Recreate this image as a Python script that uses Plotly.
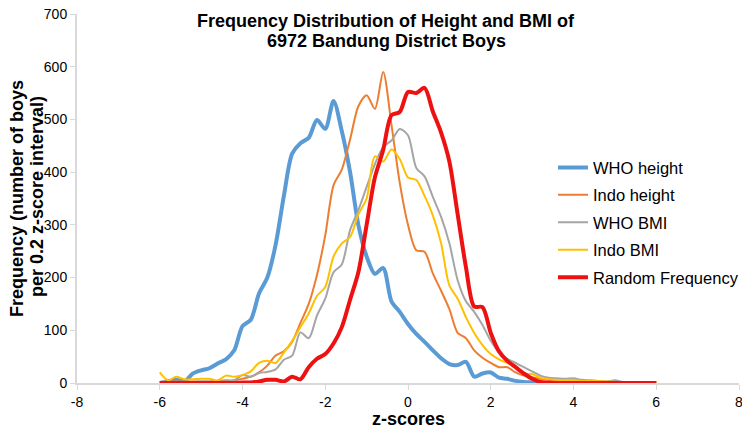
import plotly.graph_objects as go

z_scores = [round(-6 + 0.2 * i, 1) for i in range(61)]

who_height = [0, 3, 6, 3, 18, 24, 28, 37, 45, 62, 108, 120, 170, 200, 262, 355, 435, 455, 465, 499,
              482, 535, 478, 400, 300, 240, 207, 218, 155, 135, 112, 93, 78, 62, 47, 36, 34, 40, 12, 18,
              20, 10, 8, 4, 2, 1, 0, 0, 0, 0, 0, 0, 0, 0, 0, 0, 0, 0, 0, 0, 0]

indo_height = [2, 3, 3, 3, 3, 3, 3, 4, 5, 5, 8, 12, 20, 33, 52, 60, 78, 114, 150, 205,
               280, 375, 405, 462, 525, 546, 520, 590, 490, 380, 300, 252, 249, 208, 175, 140, 95, 85, 62, 48,
               38, 30, 30, 20, 14, 11, 8, 6, 5, 4, 3, 2, 2, 2, 1, 1, 1, 1, 1, 1, 1]

who_bmi = [2, 2, 2, 2, 2, 3, 3, 3, 3, 5, 15, 12, 19, 21, 26, 44, 52, 96, 85, 128,
           160, 210, 225, 290, 328, 372, 415, 448, 460, 482, 470, 408, 392, 353, 315, 265, 195, 155, 135, 110,
           80, 58, 46, 38, 30, 22, 14, 10, 9, 8, 9, 6, 5, 4, 3, 5, 2, 2, 2, 2, 2]

indo_bmi = [20, 5, 12, 7, 7, 8, 8, 5, 14, 12, 15, 22, 38, 42, 38, 58, 80, 106, 132, 165,
            182, 240, 265, 277, 320, 350, 430, 420, 443, 425, 390, 385, 355, 318, 265, 185, 160, 125, 95, 72,
            55, 45, 38, 32, 18, 17, 10, 7, 6, 5, 6, 4, 5, 4, 3, 2, 2, 2, 2, 2, 2]

random_freq = [0, 0, 0, 0, 0, 0, 0, 0, 0, 0, 1, 1, 3, 6, 6, 3, 12, 7, 30, 46,
               55, 75, 106, 158, 210, 300, 390, 442, 508, 514, 552, 550, 560, 515, 475, 420, 320, 220, 145, 144,
               95, 60, 42, 30, 18, 8, 2, 1, 0, 0, 0, 0, 0, 0, 0, 0, 0, 0, 0, 0, 0]

series_names = ["WHO height", "Indo height", "WHO BMI", "Indo BMI", "Random Frequency"]
series_values = [who_height, indo_height, who_bmi, indo_bmi, random_freq]
colors = ["#5B9BD5", "#ED7D31", "#A5A5A5", "#FFC000", "#EE1111"]
widths = [4, 2, 2, 2, 4]

x_tick_vals = [-8, -6, -4, -2, 0, 2, 4, 6, 8]
x_tick_text = ["-8", "-6", "-4", "-2", "0", "2", "4", "6", "8"]
y_tick_vals = [0, 100, 200, 300, 400, 500, 600, 700]

title_line1 = "<b>Frequency Distribution of Height and BMI of</b>"
title_line2 = "<b>6972 Bandung District Boys</b>"
x_title = "<b>z-scores</b>"
y_title_line1 = "<b>Frequency (number of boys</b>"
y_title_line2 = "<b>per 0.2 z-score interval)</b>"

fig = go.Figure()
for i, (name, vals, c, w) in enumerate(zip(series_names, series_values, colors, widths)):
    fig.add_trace(go.Scatter(
        x=z_scores, y=vals, name=name, mode="lines",
        line=dict(color=c, width=w, shape="spline", smoothing=0.8),
        legendgroup=str(i),
    ))

FONT = "Liberation Sans, Arial, sans-serif"
# page is offset by the 8px body margin; plot area spans page px x 77..739, y 14..383
OFF = 8
PL, PT, PW, PH = 77, 14, 662, 369


def px_x(px):
    return (px - PL) / PW


def px_y(py):
    return (PT + PH - py) / PH


fig.update_layout(
    width=750 - OFF, height=434 - OFF,
    margin=dict(l=PL - OFF, r=750 - (PL + PW), t=PT - OFF, b=434 - (PT + PH), autoexpand=False),
    paper_bgcolor="white", plot_bgcolor="white",
    font=dict(family=FONT, color="black", size=14),
    showlegend=True,
    legend=dict(
        x=0.719, y=0.631, xanchor="left", yanchor="top",
        font=dict(size=16.5), traceorder="grouped", tracegroupgap=3,
        bgcolor="rgba(0,0,0,0)",
    ),
    xaxis=dict(
        range=[-8, 8], tickvals=x_tick_vals, ticktext=x_tick_text, automargin=False,
        ticklabeloverflow="allow",
        showgrid=False, zeroline=False, showline=True, linecolor="#D9D9D9", linewidth=2,
        ticks="outside", ticklen=5, tickcolor="#D9D9D9",
    ),
    yaxis=dict(
        range=[0, 700], tickvals=y_tick_vals, automargin=False,
        ticklabeloverflow="allow",
        showgrid=False, zeroline=False, showline=True, linecolor="#D9D9D9", linewidth=2,
        ticks="outside", ticklen=5, tickcolor="#D9D9D9",
    ),
    annotations=[
        dict(text=title_line1, xref="paper", yref="paper",
             x=px_x(386), y=px_y(21), xanchor="center", yanchor="middle",
             showarrow=False, font=dict(size=18, family=FONT, color="black")),
        dict(text=title_line2, xref="paper", yref="paper",
             x=px_x(386), y=px_y(41), xanchor="center", yanchor="middle",
             showarrow=False, font=dict(size=18, family=FONT, color="black")),
        dict(text=x_title, xref="paper", yref="paper",
             x=px_x(408), y=px_y(419), xanchor="center", yanchor="middle",
             showarrow=False, font=dict(size=18, family=FONT, color="black")),
        dict(text=y_title_line1, xref="paper", yref="paper", textangle=-90,
             x=px_x(17), y=px_y(199), xanchor="center", yanchor="middle",
             showarrow=False, font=dict(size=18, family=FONT, color="black")),
        dict(text=y_title_line2, xref="paper", yref="paper", textangle=-90,
             x=px_x(37), y=px_y(197), xanchor="center", yanchor="middle",
             showarrow=False, font=dict(size=18, family=FONT, color="black")),
    ],
)

fig.write_html("out.html")
